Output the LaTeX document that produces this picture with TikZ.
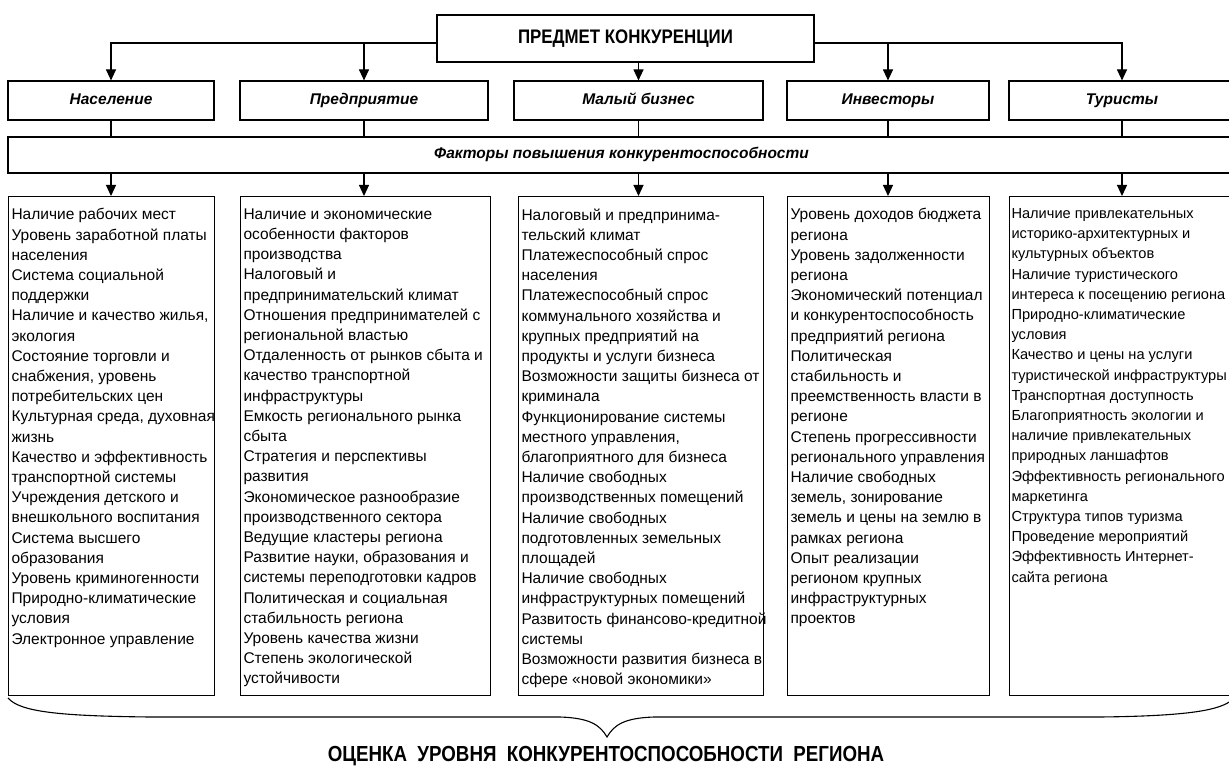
\documentclass[tikz,border=0pt]{standalone}
\usepackage{fontspec}
\setmainfont{Liberation Sans}
\newfontfamily\narrowfont[FakeStretch=0.86]{Liberation Sans}
\usetikzlibrary{positioning, arrows.meta}
\newcommand{\factorlist}[2]{\parbox[t][475pt][t]{#1}{\rightskip=-100pt plus 1fil\parfillskip=0pt plus 1fil #2}}

\begin{document}
\begin{tikzpicture}[
            x=1pt, y=-1pt,
            every node/.style={rectangle, inner sep=0pt},
            box/.style={draw, line width=1.1pt, minimum height=39pt},
            head/.style={box, text height=11pt, text depth=3pt, font=\fontsize{15.5}{18}\selectfont\bfseries\itshape},
            listbox/.style={draw, line width=1.1pt, anchor=north west, inner xsep=3pt, inner ysep=12pt, font=\fontsize{15.5}{20.2}\selectfont},
            link/.style={line width=1.1pt},
            arr/.style={link, -{Triangle[length=11pt, width=10pt]}}
        ]
            \useasboundingbox (0,0) rectangle (1229,767);

            \node [box, minimum width=377pt, minimum height=47pt, font=\narrowfont\fontsize{19.6}{22}\selectfont\bfseries] (subject) at (625.5,38.5) {ПРЕДМЕТ КОНКУРЕНЦИИ};

            \node [head, minimum width=206pt] (box1) at (111,100.5) {Население};
            \node [head, minimum width=248pt] (box2) at (364,100.5) {Предприятие};
            \node [head, minimum width=249pt] (box3) at (638.5,100.5) {Малый бизнес};
            \node [head, minimum width=202pt] (box4) at (888,100.5) {Инвесторы};
            \node [head, minimum width=226pt] (box5) at (1122,100.5) {Туристы};

            \node [head, minimum width=1227pt, minimum height=36pt] (factors) at (621.5,155) {Факторы повышения конкурентоспособности};

            \node [listbox] (list1) at (8,196) {\factorlist{200pt}{Наличие рабочих мест\\
                Уровень заработной платы\\ населения\\
                Система социальной\\ поддержки\\
                Наличие и качество жилья,\\ экология\\
                Состояние торговли и\\ снабжения, уровень\\ потребительских цен\\
                Культурная среда, духовная\\ жизнь\\
                Качество и эффективность\\ транспортной системы\\
                Учреждения детского и\\ внешкольного воспитания\\
                Система высшего\\ образования\\
                Уровень криминогенности\\
                Природно-климатические\\ условия\\
                Электронное управление}};
            \node [listbox] (list2) at (240,196) {\factorlist{244pt}{Наличие и экономические\\ особенности факторов\\ производства\\
                Налоговый и\\ предпринимательский климат\\
                Отношения предпринимателей с\\ региональной властью\\
                Отдаленность от рынков сбыта и\\ качество транспортной\\ инфраструктуры\\
                Емкость регионального рынка\\ сбыта\\
                Стратегия и перспективы\\ развития\\
                Экономическое разнообразие\\ производственного сектора\\
                Ведущие кластеры региона\\
                Развитие науки, образования и\\ системы переподготовки кадров\\
                Политическая и социальная\\ стабильность региона\\
                Уровень качества жизни\\
                Степень экологической\\ устойчивости}};
            \node [listbox] (list3) at (518,196) {\factorlist{239pt}{Налоговый и предпринима-\\ тельский климат\\
                Платежеспособный спрос\\ населения\\
                Платежеспособный спрос\\ коммунального хозяйства и\\ крупных предприятий на\\ продукты и услуги бизнеса\\
                Возможности защиты бизнеса от\\ криминала\\
                Функционирование системы\\ местного управления,\\ благоприятного для бизнеса\\
                Наличие свободных\\ производственных помещений\\
                Наличие свободных\\ подготовленных земельных\\ площадей\\
                Наличие свободных\\ инфраструктурных помещений\\
                Развитость финансово-кредитной\\ системы\\
                Возможности развития бизнеса в\\ сфере «новой экономики»}};
            \node [listbox] (list4) at (787,196) {\factorlist{196pt}{Уровень доходов бюджета\\ региона\\
                Уровень задолженности\\ региона\\
                Экономический потенциал\\ и конкурентоспособность\\ предприятий региона\\
                Политическая\\ стабильность и\\ преемственность власти в\\ регионе\\
                Степень прогрессивности\\ регионального управления\\
                Наличие свободных\\ земель, зонирование\\ земель и цены на землю в\\ рамках региона\\
                Опыт реализации\\ регионом крупных\\ инфраструктурных\\ проектов}};
            \node [listbox, inner xsep=2pt, font=\fontsize{14.6}{20.2}\selectfont] (list5) at (1009,196) {\factorlist{222pt}{Наличие привлекательных\\ историко-архитектурных и\\ культурных объектов\\
                Наличие туристического\\ интереса к посещению региона\\
                Природно-климатические\\ условия\\
                Качество и цены на услуги\\ туристической инфраструктуры\\
                Транспортная доступность\\
                Благоприятность экологии и\\ наличие привлекательных\\ природных ланшафтов\\
                Эффективность регионального\\ маркетинга\\
                Структура типов туризма\\
                Проведение мероприятий\\
                Эффективность Интернет-\\ сайта региона}};

            \node [font=\narrowfont\fontsize{21.8}{24}\selectfont\bfseries] (result) at (606,756) {ОЦЕНКА\ \ УРОВНЯ\ \ КОНКУРЕНТОСПОСОБНОСТИ\ \ РЕГИОНА};

            \draw [arr] ([yshift=-4.5pt]subject.west) -| (box1);
            \draw [arr] ([yshift=-4.5pt]subject.west) -| (box2);
            \draw [arr] (subject.south -| box3) -- (box3);
            \draw [arr] ([yshift=-4.5pt]subject.east) -| (box4);
            \draw [arr] ([yshift=-4.5pt]subject.east) -| (box5);

            \draw [link] (box1) -- (box1 |- factors.north);
            \draw [link] (box2) -- (box2 |- factors.north);
            \draw [link] (box3) -- (box3 |- factors.north);
            \draw [link] (box4) -- (box4 |- factors.north);
            \draw [link] (box5) -- (box5 |- factors.north);

            \draw [arr] (box1 |- factors.south) -- (box1 |- list1.north);
            \draw [arr] (box2 |- factors.south) -- (box2 |- list2.north);
            \draw [arr] (box3 |- factors.south) -- (box3 |- list3.north);
            \draw [arr] (box4 |- factors.south) -- (box4 |- list4.north);
            \draw [arr] (box5 |- factors.south) -- (box5 |- list5.north);

            % brace under the lists
            \draw [link] (8,698) .. controls (20,712) and (60,716) .. (150,717) -- (560,717)
                .. controls (590,718) and (600,725) .. (607,737)
                .. controls (614,725) and (624,718) .. (654,717) -- (1100,717)
                .. controls (1190,716) and (1220,710) .. (1232,700);
        \end{tikzpicture}
\end{document}
